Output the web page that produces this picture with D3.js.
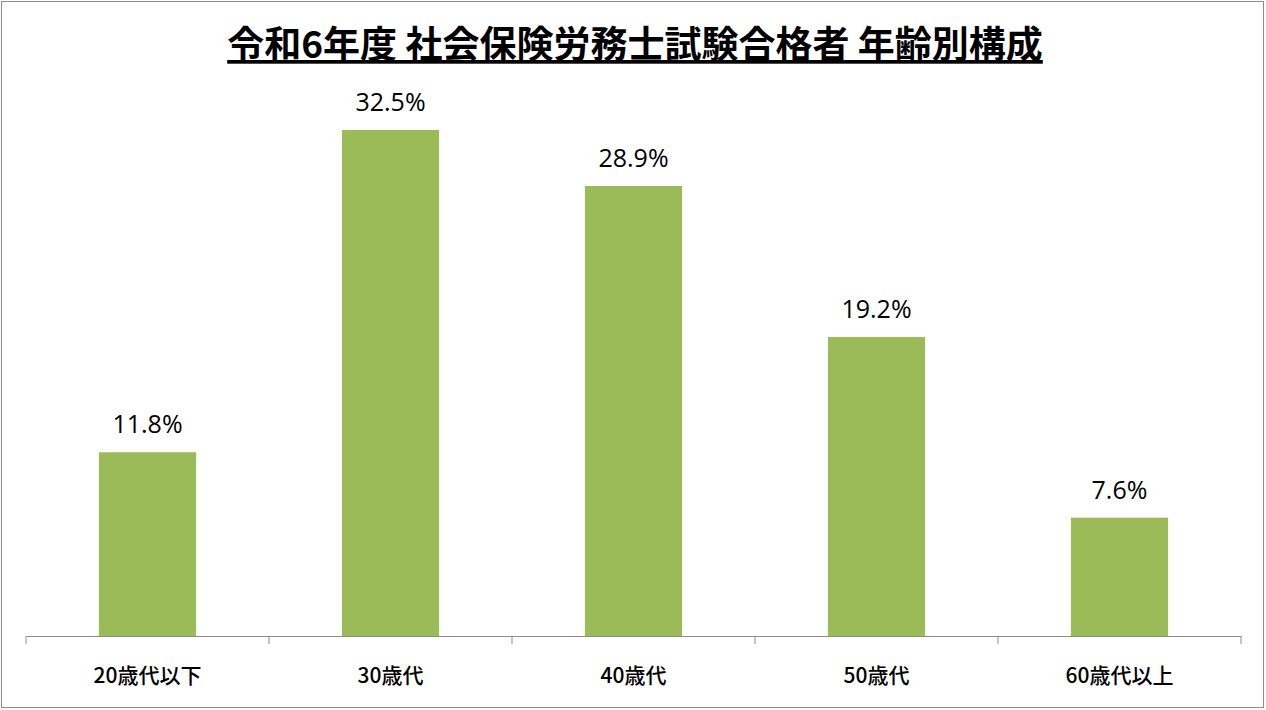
<!DOCTYPE html>
<html><head><meta charset="utf-8">
<script src="https://cdn.jsdelivr.net/npm/d3@7"></script>
<style>body{margin:0;background:#fff}svg{display:block;font-family:"Noto Sans CJK JP","Noto Sans",sans-serif}</style>
</head><body><svg id="c" width="1266" height="710"></svg>
<script>
const categories = ["20歳代以下","30歳代","40歳代","50歳代","60歳代以上"];
const values = [11.8,32.5,28.9,19.2,7.6];
const title = "令和6年度 社会保険労務士試験合格者 年齢別構成";

const svg = d3.select("#c");
svg.append("rect").attr("x",1.5).attr("y",1.5).attr("width",1262).attr("height",706)
  .attr("fill","#fff").attr("stroke","#8c8c8c").attr("stroke-width",1);

const x = d3.scaleBand().domain(categories).range([26,1241]).paddingInner(0.6).paddingOuter(0.3);
const y = d3.scaleLinear().domain([0,35]).range([636,91]);

svg.selectAll(".bar").data(values).join("rect")
  .attr("x",(d,i)=>x(categories[i])).attr("width",x.bandwidth())
  .attr("y",d=>y(d)).attr("height",d=>y(0)-y(d)).attr("fill","#9bbb59");

svg.selectAll(".lbl").data(values).join("text")
  .attr("x",(d,i)=>x(categories[i])+x.bandwidth()/2).attr("y",d=>y(d)-19)
  .attr("text-anchor","middle").attr("font-size",25).attr("fill","#000")
  .style("font-family","'Open Sans','Noto Sans',sans-serif")
  .text(d=>d.toFixed(1)+"%");

const xb = d3.scaleBand().domain(categories).range([26,1241]);
const ax = svg.append("g").attr("transform","translate(0,636)")
  .call(d3.axisBottom(xb).tickSize(0).tickPadding(32));
ax.select(".domain").attr("stroke","#8c8c8c");
ax.selectAll("text").attr("font-size",21).attr("fill","#000").attr("font-weight",500)
  .style("font-family","'Noto Sans CJK JP',sans-serif");
const bounds = categories.map(c=>xb(c)).concat([xb(categories[4])+xb.bandwidth()]);
svg.selectAll(".tk").data(bounds).join("line")
  .attr("x1",d=>d).attr("x2",d=>d).attr("y1",636).attr("y2",644).attr("stroke","#8c8c8c");

svg.append("text").attr("x",635).attr("y",58).attr("text-anchor","middle")
  .attr("font-size",37).attr("font-weight",700).attr("text-decoration","underline").text(title);
</script></body></html>
